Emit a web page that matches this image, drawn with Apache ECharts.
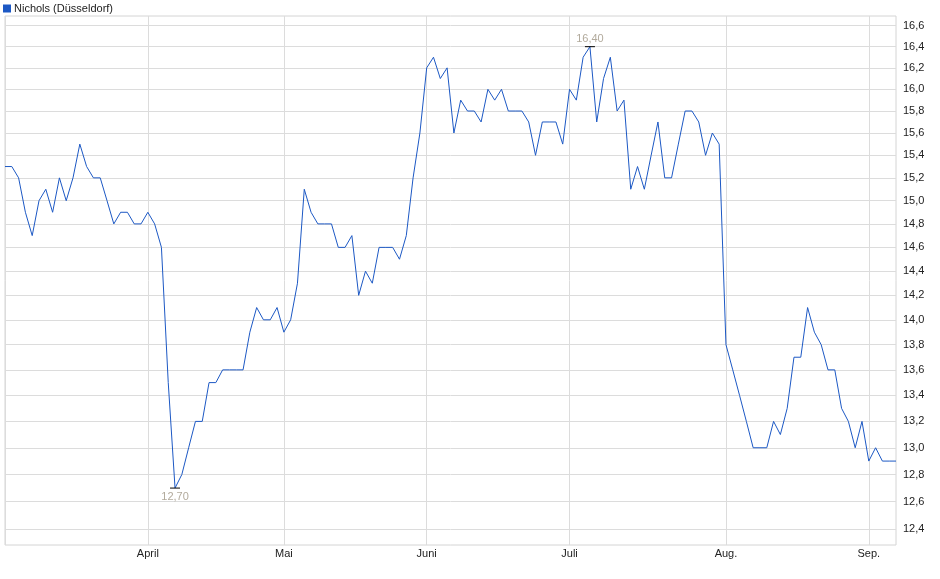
<!DOCTYPE html>
<html>
<head>
<meta charset="utf-8">
<title>Nichols (Düsseldorf)</title>
<script src="https://cdn.jsdelivr.net/npm/echarts@6/dist/echarts.min.js"></script>
<style>
html, body { margin: 0; padding: 0; background: #fff; }
#main { width: 940px; height: 579px; }
</style>
</head>
<body>
<div id="main"></div>
<script>
// Monate und Handelstage je Monat (2025)
var months = ['März', 'April', 'Mai', 'Juni', 'Juli', 'Aug.', 'Sep.'];
var tradingDays = [21, 20, 21, 21, 23, 21, 5];

// Schlusskurse je Monat
var marchVals = [15.3, 15.3, 15.2, 14.9, 14.7, 15.0, 15.1, 14.9, 15.2, 15.0, 15.2, 15.5, 15.3, 15.2, 15.2, 15.0, 14.8, 14.9, 14.9, 14.8, 14.8];
var aprilVals = [14.9, 14.8, 14.6, 13.5, 12.7, 12.8, 13.0, 13.2, 13.2, 13.5, 13.5, 13.6, 13.6, 13.6, 13.6, 13.9, 14.1, 14.0, 14.0, 14.1];
var mayVals = [13.9, 14.0, 14.3, 15.1, 14.9, 14.8, 14.8, 14.8, 14.6, 14.6, 14.7, 14.2, 14.4, 14.3, 14.6, 14.6, 14.6, 14.5, 14.7, 15.2, 15.6];
var juneVals = [16.2, 16.3, 16.1, 16.2, 15.6, 15.9, 15.8, 15.8, 15.7, 16.0, 15.9, 16.0, 15.8, 15.8, 15.8, 15.7, 15.4, 15.7, 15.7, 15.7, 15.5];
var julyVals = [16.0, 15.9, 16.3, 16.4, 15.7, 16.1, 16.3, 15.8, 15.9, 15.1, 15.3, 15.1, 15.4, 15.7, 15.2, 15.2, 15.5, 15.8, 15.8, 15.7, 15.4, 15.6, 15.5];
var augVals = [13.8, 13.6, 13.4, 13.2, 13.0, 13.0, 13.0, 13.2, 13.1, 13.3, 13.7, 13.7, 14.1, 13.9, 13.8, 13.6, 13.6, 13.3, 13.2, 13.0, 13.2];
var sepVals = [12.9, 13.0, 12.9, 12.9, 12.9];

// Achsenbeschriftung rechts
var yTicks = [12.4, 12.6, 12.8, 13.0, 13.2, 13.4, 13.6, 13.8, 14.0, 14.2, 14.4, 14.6, 14.8, 15.0, 15.2, 15.4, 15.6, 15.8, 16.0, 16.2, 16.4, 16.6];

var prices = [].concat(marchVals, aprilVals, mayVals, juneVals, julyVals, augVals, sepVals);

// Kategorien: ein Eintrag je Handelstag, Monatsanfang merken
var categories = [];
var monthStart = {};
for (var m = 0; m < months.length; m++) {
	monthStart[categories.length] = months[m];
	for (var d = 0; d < tradingDays[m]; d++) {
		categories.push(months[m] + ' ' + (d + 1));
	}
}

function fmt(v, n) {
	return v.toFixed(n).replace('.', ',');
}

var myChart = echarts.init(document.getElementById('main'));

var option = {
	animation : false,
	textStyle : {
		fontFamily : 'Arial, "Liberation Sans", sans-serif'
	},
	legend : {
		left : 3,
		top : 1,
		padding : [2, 0, 2, 0],
		icon : 'rect',
		itemWidth : 8,
		itemHeight : 8,
		itemGap : 4,
		textStyle : {
			fontSize : 11,
			color : '#222',
			padding : [0, 0, 0, -2]
		},
		data : ['Nichols (Düsseldorf)']
	},
	grid : {
		left : 5,
		right : 44,
		top : 16,
		bottom : 34,
		show : true,
		borderColor : '#d4d4d4',
		borderWidth : 1,
		containLabel : false
	},
	xAxis : {
		type : 'category',
		boundaryGap : false,
		data : categories,
		axisLine : { show : false },
		axisTick : { show : false },
		axisLabel : {
			interval : function(idx) {
				return monthStart[idx] !== undefined && idx > 0;
			},
			formatter : function(v, idx) {
				return monthStart[idx] || '';
			},
			fontSize : 11,
			color : '#222',
			margin : 3
		},
		splitLine : {
			show : true,
			interval : function(idx) {
				return monthStart[idx] !== undefined;
			},
			lineStyle : { color : '#dcdcdc', width : 1 }
		}
	},
	yAxis : {
		type : 'log',
		position : 'right',
		min : 12.288,
		max : 16.694,
		axisLine : { show : false },
		axisTick : { show : false, customValues : yTicks },
		axisLabel : {
			customValues : yTicks,
			formatter : function(v) {
				return fmt(v, 1);
			},
			fontSize : 11,
			color : '#222',
			margin : 7
		},
		splitLine : {
			show : true,
			lineStyle : { color : '#dcdcdc', width : 1 }
		}
	},
	series : [ {
		name : 'Nichols (Düsseldorf)',
		type : 'line',
		data : prices,
		showSymbol : false,
		symbol : 'none',
		color : '#1c58c4',
		lineStyle : { color : '#1c58c4', width : 1 },
		markPoint : {
			symbol : 'rect',
			symbolSize : [10, 1],
			itemStyle : { color : '#000' },
			label : {
				color : '#b2aa9c',
				fontSize : 11,
				formatter : function(p) {
					return fmt(p.value, 2);
				}
			},
			data : [
				{ type : 'max', label : { position : 'top', distance : 2 } },
				{ type : 'min', label : { position : 'bottom', distance : 3 } }
			]
		}
	} ]
};

myChart.setOption(option);
</script>
</body>
</html>
